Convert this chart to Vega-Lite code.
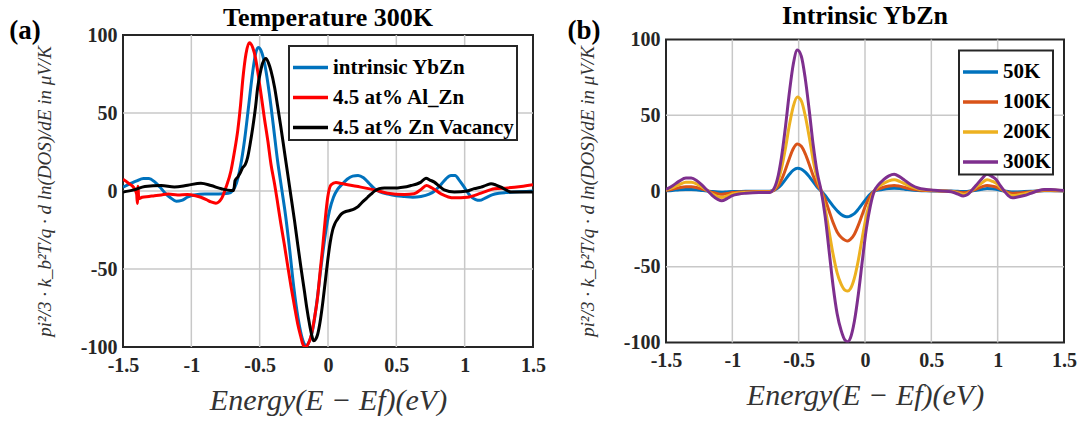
{
  "$schema": "https://vega.github.io/schema/vega-lite/v6.json",
  "background": "white",
  "padding": {"left": 8, "top": 2, "right": 0, "bottom": 0},
  "bounds": "flush",
  "spacing": 133,
  "center": true,
  "config": {
    "font": "Liberation Serif",
    "view": {"stroke": "#262626", "strokeWidth": 2},
    "axis": {
      "labelFont": "Liberation Serif", "labelFontWeight": "bold", "labelFontSize": 20, "labelColor": "#262626",
      "tickSize": 0, "tickOpacity": 0, "domainOpacity": 0, "grid": false,
      "labelPadding": 6, "labelOverlap": false, "labelFlush": false,
      "titleFont": "Liberation Serif", "titleFontWeight": "normal", "titleFontStyle": "italic", "titleColor": "#333333"
    },
    "axisX": {"titleFontSize": 30, "titlePadding": 10, "labelPadding": 8},
    "axisY": {"titleFontSize": 19, "titlePadding": 26},
    "rule": {"color": "#c8c8c8", "strokeWidth": 1.5},
    "legend": {
      "orient": "none", "title": null, "strokeColor": "#262626", "strokeWidth": 2, "fillColor": "white", "padding": 2,
      "symbolType": "stroke", "symbolSize": 1225, "symbolStrokeWidth": 3.5,
      "labelFont": "Liberation Serif", "labelFontWeight": "bold", "labelFontSize": 21, "labelColor": "#000000",
      "labelOffset": 3, "labelLimit": 400
    }
  },
  "datasets": {
    "left": [
      {"s":"intrinsic YbZn","x":-1.5,"y":2.5},{"s":"intrinsic YbZn","x":-1.45,"y":4.5},{"s":"intrinsic YbZn","x":-1.4,"y":6.5},{"s":"intrinsic YbZn","x":-1.35,"y":8},{"s":"intrinsic YbZn","x":-1.31,"y":8},{"s":"intrinsic YbZn","x":-1.27,"y":6},{"s":"intrinsic YbZn","x":-1.23,"y":2.5},{"s":"intrinsic YbZn","x":-1.19,"y":-1.5},{"s":"intrinsic YbZn","x":-1.15,"y":-4.5},{"s":"intrinsic YbZn","x":-1.11,"y":-6.5},{"s":"intrinsic YbZn","x":-1.07,"y":-6},{"s":"intrinsic YbZn","x":-1.03,"y":-4},{"s":"intrinsic YbZn","x":-0.98,"y":-2.5},{"s":"intrinsic YbZn","x":-0.9,"y":-2},{"s":"intrinsic YbZn","x":-0.8,"y":-2},{"s":"intrinsic YbZn","x":-0.73,"y":-1.5},{"s":"intrinsic YbZn","x":-0.7,"y":0},{"s":"intrinsic YbZn","x":-0.67,"y":5},{"s":"intrinsic YbZn","x":-0.64,"y":16},{"s":"intrinsic YbZn","x":-0.61,"y":33},{"s":"intrinsic YbZn","x":-0.58,"y":55},{"s":"intrinsic YbZn","x":-0.55,"y":77},{"s":"intrinsic YbZn","x":-0.53,"y":88},{"s":"intrinsic YbZn","x":-0.51,"y":92},{"s":"intrinsic YbZn","x":-0.49,"y":90},{"s":"intrinsic YbZn","x":-0.46,"y":80},{"s":"intrinsic YbZn","x":-0.43,"y":63},{"s":"intrinsic YbZn","x":-0.4,"y":42},{"s":"intrinsic YbZn","x":-0.37,"y":20},{"s":"intrinsic YbZn","x":-0.34,"y":2},{"s":"intrinsic YbZn","x":-0.31,"y":-16},{"s":"intrinsic YbZn","x":-0.28,"y":-38},{"s":"intrinsic YbZn","x":-0.25,"y":-62},{"s":"intrinsic YbZn","x":-0.22,"y":-81},{"s":"intrinsic YbZn","x":-0.19,"y":-94},{"s":"intrinsic YbZn","x":-0.16,"y":-99},{"s":"intrinsic YbZn","x":-0.14,"y":-97},{"s":"intrinsic YbZn","x":-0.11,"y":-88},{"s":"intrinsic YbZn","x":-0.08,"y":-70},{"s":"intrinsic YbZn","x":-0.05,"y":-48},{"s":"intrinsic YbZn","x":-0.02,"y":-28},{"s":"intrinsic YbZn","x":0.01,"y":-13},{"s":"intrinsic YbZn","x":0.04,"y":-4},{"s":"intrinsic YbZn","x":0.07,"y":1},{"s":"intrinsic YbZn","x":0.1,"y":4},{"s":"intrinsic YbZn","x":0.14,"y":7.5},{"s":"intrinsic YbZn","x":0.18,"y":9.5},{"s":"intrinsic YbZn","x":0.22,"y":10},{"s":"intrinsic YbZn","x":0.26,"y":8.5},{"s":"intrinsic YbZn","x":0.3,"y":5},{"s":"intrinsic YbZn","x":0.34,"y":1.5},{"s":"intrinsic YbZn","x":0.38,"y":-0.5},{"s":"intrinsic YbZn","x":0.44,"y":-2},{"s":"intrinsic YbZn","x":0.5,"y":-3},{"s":"intrinsic YbZn","x":0.56,"y":-3.5},{"s":"intrinsic YbZn","x":0.62,"y":-4},{"s":"intrinsic YbZn","x":0.68,"y":-3.5},{"s":"intrinsic YbZn","x":0.74,"y":-2},{"s":"intrinsic YbZn","x":0.78,"y":0},{"s":"intrinsic YbZn","x":0.82,"y":3.5},{"s":"intrinsic YbZn","x":0.86,"y":7.5},{"s":"intrinsic YbZn","x":0.9,"y":10},{"s":"intrinsic YbZn","x":0.93,"y":10},{"s":"intrinsic YbZn","x":0.96,"y":7},{"s":"intrinsic YbZn","x":1.0,"y":2},{"s":"intrinsic YbZn","x":1.04,"y":-3},{"s":"intrinsic YbZn","x":1.08,"y":-5.5},{"s":"intrinsic YbZn","x":1.11,"y":-6},{"s":"intrinsic YbZn","x":1.15,"y":-4.5},{"s":"intrinsic YbZn","x":1.2,"y":-2.5},{"s":"intrinsic YbZn","x":1.25,"y":-1.5},{"s":"intrinsic YbZn","x":1.3,"y":-1},{"s":"intrinsic YbZn","x":1.4,"y":-0.5},{"s":"intrinsic YbZn","x":1.5,"y":0},

      {"s":"4.5 at% Al_Zn","x":-1.5,"y":7.5},{"s":"4.5 at% Al_Zn","x":-1.46,"y":5},{"s":"4.5 at% Al_Zn","x":-1.42,"y":2},{"s":"4.5 at% Al_Zn","x":-1.4,"y":-2},{"s":"4.5 at% Al_Zn","x":-1.395,"y":-8},{"s":"4.5 at% Al_Zn","x":-1.39,"y":3},{"s":"4.5 at% Al_Zn","x":-1.385,"y":-5},{"s":"4.5 at% Al_Zn","x":-1.36,"y":-4},{"s":"4.5 at% Al_Zn","x":-1.31,"y":-3.5},{"s":"4.5 at% Al_Zn","x":-1.27,"y":-3},{"s":"4.5 at% Al_Zn","x":-1.22,"y":-2.5},{"s":"4.5 at% Al_Zn","x":-1.17,"y":-2},{"s":"4.5 at% Al_Zn","x":-1.1,"y":-2.5},{"s":"4.5 at% Al_Zn","x":-1.03,"y":-2.2},{"s":"4.5 at% Al_Zn","x":-0.97,"y":-3},{"s":"4.5 at% Al_Zn","x":-0.93,"y":-4},{"s":"4.5 at% Al_Zn","x":-0.89,"y":-5.5},{"s":"4.5 at% Al_Zn","x":-0.856,"y":-7},{"s":"4.5 at% Al_Zn","x":-0.82,"y":-7.8},{"s":"4.5 at% Al_Zn","x":-0.78,"y":-5},{"s":"4.5 at% Al_Zn","x":-0.746,"y":2.5},{"s":"4.5 at% Al_Zn","x":-0.71,"y":13},{"s":"4.5 at% Al_Zn","x":-0.685,"y":25},{"s":"4.5 at% Al_Zn","x":-0.66,"y":39},{"s":"4.5 at% Al_Zn","x":-0.64,"y":55},{"s":"4.5 at% Al_Zn","x":-0.624,"y":71},{"s":"4.5 at% Al_Zn","x":-0.6,"y":88},{"s":"4.5 at% Al_Zn","x":-0.576,"y":95},{"s":"4.5 at% Al_Zn","x":-0.551,"y":92},{"s":"4.5 at% Al_Zn","x":-0.53,"y":85},{"s":"4.5 at% Al_Zn","x":-0.515,"y":77},{"s":"4.5 at% Al_Zn","x":-0.49,"y":62},{"s":"4.5 at% Al_Zn","x":-0.466,"y":47},{"s":"4.5 at% Al_Zn","x":-0.44,"y":32},{"s":"4.5 at% Al_Zn","x":-0.417,"y":17},{"s":"4.5 at% Al_Zn","x":-0.39,"y":4},{"s":"4.5 at% Al_Zn","x":-0.368,"y":-8},{"s":"4.5 at% Al_Zn","x":-0.345,"y":-21},{"s":"4.5 at% Al_Zn","x":-0.32,"y":-34},{"s":"4.5 at% Al_Zn","x":-0.295,"y":-48},{"s":"4.5 at% Al_Zn","x":-0.27,"y":-61.5},{"s":"4.5 at% Al_Zn","x":-0.245,"y":-74},{"s":"4.5 at% Al_Zn","x":-0.222,"y":-85},{"s":"4.5 at% Al_Zn","x":-0.2,"y":-93},{"s":"4.5 at% Al_Zn","x":-0.185,"y":-98},{"s":"4.5 at% Al_Zn","x":-0.165,"y":-100},{"s":"4.5 at% Al_Zn","x":-0.145,"y":-98},{"s":"4.5 at% Al_Zn","x":-0.124,"y":-93},{"s":"4.5 at% Al_Zn","x":-0.1,"y":-82},{"s":"4.5 at% Al_Zn","x":-0.076,"y":-68},{"s":"4.5 at% Al_Zn","x":-0.058,"y":-52},{"s":"4.5 at% Al_Zn","x":-0.039,"y":-36},{"s":"4.5 at% Al_Zn","x":-0.02,"y":-18},{"s":"4.5 at% Al_Zn","x":-0.002,"y":-4},{"s":"4.5 at% Al_Zn","x":0.022,"y":4},{"s":"4.5 at% Al_Zn","x":0.058,"y":5.4},{"s":"4.5 at% Al_Zn","x":0.1,"y":4.8},{"s":"4.5 at% Al_Zn","x":0.144,"y":4},{"s":"4.5 at% Al_Zn","x":0.24,"y":2.5},{"s":"4.5 at% Al_Zn","x":0.34,"y":0.7},{"s":"4.5 at% Al_Zn","x":0.437,"y":-1.4},{"s":"4.5 at% Al_Zn","x":0.56,"y":-2.2},{"s":"4.5 at% Al_Zn","x":0.63,"y":-1.8},{"s":"4.5 at% Al_Zn","x":0.68,"y":1},{"s":"4.5 at% Al_Zn","x":0.72,"y":3.5},{"s":"4.5 at% Al_Zn","x":0.76,"y":2},{"s":"4.5 at% Al_Zn","x":0.827,"y":-1.8},{"s":"4.5 at% Al_Zn","x":0.924,"y":-4.4},{"s":"4.5 at% Al_Zn","x":1.02,"y":-4},{"s":"4.5 at% Al_Zn","x":1.12,"y":-1.4},{"s":"4.5 at% Al_Zn","x":1.217,"y":1.4},{"s":"4.5 at% Al_Zn","x":1.315,"y":2},{"s":"4.5 at% Al_Zn","x":1.412,"y":2.9},{"s":"4.5 at% Al_Zn","x":1.5,"y":4},

      {"s":"4.5 at% Zn Vacancy","x":-1.5,"y":-0.7},{"s":"4.5 at% Zn Vacancy","x":-1.42,"y":0.7},{"s":"4.5 at% Zn Vacancy","x":-1.34,"y":2.9},{"s":"4.5 at% Zn Vacancy","x":-1.22,"y":3.5},{"s":"4.5 at% Zn Vacancy","x":-1.124,"y":2.5},{"s":"4.5 at% Zn Vacancy","x":-1.027,"y":3.7},{"s":"4.5 at% Zn Vacancy","x":-0.93,"y":5},{"s":"4.5 at% Zn Vacancy","x":-0.856,"y":3.5},{"s":"4.5 at% Zn Vacancy","x":-0.78,"y":1.4},{"s":"4.5 at% Zn Vacancy","x":-0.71,"y":0.3},{"s":"4.5 at% Zn Vacancy","x":-0.69,"y":0.3},{"s":"4.5 at% Zn Vacancy","x":-0.68,"y":6.7},{"s":"4.5 at% Zn Vacancy","x":-0.66,"y":9},{"s":"4.5 at% Zn Vacancy","x":-0.64,"y":12},{"s":"4.5 at% Zn Vacancy","x":-0.624,"y":15},{"s":"4.5 at% Zn Vacancy","x":-0.605,"y":17},{"s":"4.5 at% Zn Vacancy","x":-0.588,"y":21.6},{"s":"4.5 at% Zn Vacancy","x":-0.57,"y":30},{"s":"4.5 at% Zn Vacancy","x":-0.55,"y":41},{"s":"4.5 at% Zn Vacancy","x":-0.53,"y":54},{"s":"4.5 at% Zn Vacancy","x":-0.515,"y":66},{"s":"4.5 at% Zn Vacancy","x":-0.495,"y":76},{"s":"4.5 at% Zn Vacancy","x":-0.478,"y":82},{"s":"4.5 at% Zn Vacancy","x":-0.454,"y":85},{"s":"4.5 at% Zn Vacancy","x":-0.435,"y":82},{"s":"4.5 at% Zn Vacancy","x":-0.417,"y":77},{"s":"4.5 at% Zn Vacancy","x":-0.39,"y":66},{"s":"4.5 at% Zn Vacancy","x":-0.368,"y":54},{"s":"4.5 at% Zn Vacancy","x":-0.345,"y":41},{"s":"4.5 at% Zn Vacancy","x":-0.32,"y":26},{"s":"4.5 at% Zn Vacancy","x":-0.295,"y":11},{"s":"4.5 at% Zn Vacancy","x":-0.27,"y":-4},{"s":"4.5 at% Zn Vacancy","x":-0.245,"y":-19},{"s":"4.5 at% Zn Vacancy","x":-0.222,"y":-34},{"s":"4.5 at% Zn Vacancy","x":-0.198,"y":-49},{"s":"4.5 at% Zn Vacancy","x":-0.173,"y":-64},{"s":"4.5 at% Zn Vacancy","x":-0.155,"y":-75},{"s":"4.5 at% Zn Vacancy","x":-0.136,"y":-85},{"s":"4.5 at% Zn Vacancy","x":-0.12,"y":-92},{"s":"4.5 at% Zn Vacancy","x":-0.105,"y":-96},{"s":"4.5 at% Zn Vacancy","x":-0.09,"y":-95},{"s":"4.5 at% Zn Vacancy","x":-0.076,"y":-92},{"s":"4.5 at% Zn Vacancy","x":-0.058,"y":-84},{"s":"4.5 at% Zn Vacancy","x":-0.039,"y":-72},{"s":"4.5 at% Zn Vacancy","x":-0.02,"y":-58},{"s":"4.5 at% Zn Vacancy","x":-0.002,"y":-44.5},{"s":"4.5 at% Zn Vacancy","x":0.016,"y":-33},{"s":"4.5 at% Zn Vacancy","x":0.034,"y":-25},{"s":"4.5 at% Zn Vacancy","x":0.05,"y":-21},{"s":"4.5 at% Zn Vacancy","x":0.07,"y":-18},{"s":"4.5 at% Zn Vacancy","x":0.095,"y":-15},{"s":"4.5 at% Zn Vacancy","x":0.12,"y":-13.5},{"s":"4.5 at% Zn Vacancy","x":0.16,"y":-12.5},{"s":"4.5 at% Zn Vacancy","x":0.193,"y":-11.4},{"s":"4.5 at% Zn Vacancy","x":0.22,"y":-10},{"s":"4.5 at% Zn Vacancy","x":0.24,"y":-8.2},{"s":"4.5 at% Zn Vacancy","x":0.265,"y":-6},{"s":"4.5 at% Zn Vacancy","x":0.29,"y":-4},{"s":"4.5 at% Zn Vacancy","x":0.315,"y":-2},{"s":"4.5 at% Zn Vacancy","x":0.34,"y":-0.1},{"s":"4.5 at% Zn Vacancy","x":0.375,"y":1.5},{"s":"4.5 at% Zn Vacancy","x":0.412,"y":2},{"s":"4.5 at% Zn Vacancy","x":0.51,"y":2},{"s":"4.5 at% Zn Vacancy","x":0.56,"y":2.5},{"s":"4.5 at% Zn Vacancy","x":0.607,"y":3.5},{"s":"4.5 at% Zn Vacancy","x":0.65,"y":4.5},{"s":"4.5 at% Zn Vacancy","x":0.68,"y":5.7},{"s":"4.5 at% Zn Vacancy","x":0.717,"y":8.2},{"s":"4.5 at% Zn Vacancy","x":0.745,"y":7},{"s":"4.5 at% Zn Vacancy","x":0.778,"y":5.7},{"s":"4.5 at% Zn Vacancy","x":0.815,"y":3},{"s":"4.5 at% Zn Vacancy","x":0.85,"y":0.7},{"s":"4.5 at% Zn Vacancy","x":0.924,"y":-0.7},{"s":"4.5 at% Zn Vacancy","x":1.02,"y":0},{"s":"4.5 at% Zn Vacancy","x":1.07,"y":1.5},{"s":"4.5 at% Zn Vacancy","x":1.12,"y":2.5},{"s":"4.5 at% Zn Vacancy","x":1.16,"y":3.8},{"s":"4.5 at% Zn Vacancy","x":1.193,"y":4.6},{"s":"4.5 at% Zn Vacancy","x":1.23,"y":3.8},{"s":"4.5 at% Zn Vacancy","x":1.266,"y":2.5},{"s":"4.5 at% Zn Vacancy","x":1.3,"y":0.8},{"s":"4.5 at% Zn Vacancy","x":1.34,"y":-0.7},{"s":"4.5 at% Zn Vacancy","x":1.42,"y":-0.7},{"s":"4.5 at% Zn Vacancy","x":1.5,"y":-0.7}
    ],
    "right": [
      {"s":"50K","x":-1.5,"y":0.1},{"s":"50K","x":-1.45,"y":0.4},{"s":"50K","x":-1.4,"y":0.8},{"s":"50K","x":-1.35,"y":1},{"s":"50K","x":-1.31,"y":1},{"s":"50K","x":-1.27,"y":0.8},{"s":"50K","x":-1.23,"y":0.4},{"s":"50K","x":-1.19,"y":0},{"s":"50K","x":-1.15,"y":-0.4},{"s":"50K","x":-1.11,"y":-0.7},{"s":"50K","x":-1.08,"y":-0.8},{"s":"50K","x":-1.04,"y":-0.6},{"s":"50K","x":-1.0,"y":-0.4},{"s":"50K","x":-0.95,"y":-0.3},{"s":"50K","x":-0.9,"y":-0.2},{"s":"50K","x":-0.8,"y":-0.1},{"s":"50K","x":-0.72,"y":-0.1},{"s":"50K","x":-0.69,"y":0.3},{"s":"50K","x":-0.66,"y":1.8},{"s":"50K","x":-0.63,"y":4.2},{"s":"50K","x":-0.6,"y":7.5},{"s":"50K","x":-0.57,"y":11},{"s":"50K","x":-0.54,"y":13.8},{"s":"50K","x":-0.51,"y":15},{"s":"50K","x":-0.48,"y":14.5},{"s":"50K","x":-0.45,"y":12.5},{"s":"50K","x":-0.42,"y":9.5},{"s":"50K","x":-0.39,"y":6},{"s":"50K","x":-0.36,"y":2.5},{"s":"50K","x":-0.33,"y":0},{"s":"50K","x":-0.3,"y":-3},{"s":"50K","x":-0.27,"y":-6.5},{"s":"50K","x":-0.24,"y":-10},{"s":"50K","x":-0.21,"y":-13},{"s":"50K","x":-0.18,"y":-15.5},{"s":"50K","x":-0.15,"y":-16.8},{"s":"50K","x":-0.13,"y":-17},{"s":"50K","x":-0.11,"y":-16.5},{"s":"50K","x":-0.08,"y":-15},{"s":"50K","x":-0.05,"y":-12},{"s":"50K","x":-0.02,"y":-8.5},{"s":"50K","x":0.01,"y":-5},{"s":"50K","x":0.04,"y":-2},{"s":"50K","x":0.07,"y":0},{"s":"50K","x":0.1,"y":0.6},{"s":"50K","x":0.14,"y":1.2},{"s":"50K","x":0.18,"y":1.6},{"s":"50K","x":0.22,"y":1.8},{"s":"50K","x":0.26,"y":1.6},{"s":"50K","x":0.3,"y":1.2},{"s":"50K","x":0.35,"y":0.6},{"s":"50K","x":0.4,"y":0.3},{"s":"50K","x":0.46,"y":0.1},{"s":"50K","x":0.52,"y":0},{"s":"50K","x":0.58,"y":0},{"s":"50K","x":0.65,"y":0},{"s":"50K","x":0.7,"y":-0.2},{"s":"50K","x":0.74,"y":-0.4},{"s":"50K","x":0.77,"y":-0.3},{"s":"50K","x":0.8,"y":0},{"s":"50K","x":0.84,"y":0.5},{"s":"50K","x":0.88,"y":1.2},{"s":"50K","x":0.92,"y":1.7},{"s":"50K","x":0.96,"y":1.5},{"s":"50K","x":0.99,"y":1.1},{"s":"50K","x":1.02,"y":0.5},{"s":"50K","x":1.05,"y":0},{"s":"50K","x":1.08,"y":-0.4},{"s":"50K","x":1.11,"y":-0.7},{"s":"50K","x":1.15,"y":-0.6},{"s":"50K","x":1.2,"y":-0.4},{"s":"50K","x":1.25,"y":-0.2},{"s":"50K","x":1.3,"y":0},{"s":"50K","x":1.35,"y":0.1},{"s":"50K","x":1.4,"y":0.1},{"s":"50K","x":1.45,"y":0.1},{"s":"50K","x":1.5,"y":0},

      {"s":"100K","x":-1.5,"y":0.3},{"s":"100K","x":-1.45,"y":1.2},{"s":"100K","x":-1.4,"y":2.2},{"s":"100K","x":-1.35,"y":2.8},{"s":"100K","x":-1.31,"y":2.8},{"s":"100K","x":-1.27,"y":2.3},{"s":"100K","x":-1.23,"y":1.3},{"s":"100K","x":-1.19,"y":0.2},{"s":"100K","x":-1.15,"y":-1},{"s":"100K","x":-1.11,"y":-1.8},{"s":"100K","x":-1.08,"y":-2.2},{"s":"100K","x":-1.04,"y":-1.7},{"s":"100K","x":-1.0,"y":-1},{"s":"100K","x":-0.95,"y":-0.7},{"s":"100K","x":-0.9,"y":-0.5},{"s":"100K","x":-0.8,"y":-0.3},{"s":"100K","x":-0.72,"y":-0.3},{"s":"100K","x":-0.69,"y":0.3},{"s":"100K","x":-0.66,"y":2.7},{"s":"100K","x":-0.63,"y":7.3},{"s":"100K","x":-0.6,"y":14},{"s":"100K","x":-0.57,"y":21.5},{"s":"100K","x":-0.54,"y":28},{"s":"100K","x":-0.51,"y":31},{"s":"100K","x":-0.48,"y":29.5},{"s":"100K","x":-0.45,"y":24.5},{"s":"100K","x":-0.42,"y":17.5},{"s":"100K","x":-0.39,"y":10},{"s":"100K","x":-0.36,"y":4},{"s":"100K","x":-0.33,"y":0},{"s":"100K","x":-0.3,"y":-5.7},{"s":"100K","x":-0.27,"y":-13.3},{"s":"100K","x":-0.24,"y":-21},{"s":"100K","x":-0.21,"y":-27},{"s":"100K","x":-0.18,"y":-30.5},{"s":"100K","x":-0.15,"y":-32.5},{"s":"100K","x":-0.13,"y":-33},{"s":"100K","x":-0.11,"y":-32},{"s":"100K","x":-0.08,"y":-28.5},{"s":"100K","x":-0.05,"y":-22.5},{"s":"100K","x":-0.02,"y":-15.3},{"s":"100K","x":0.01,"y":-8.3},{"s":"100K","x":0.04,"y":-3.3},{"s":"100K","x":0.07,"y":0},{"s":"100K","x":0.1,"y":1.3},{"s":"100K","x":0.14,"y":2.5},{"s":"100K","x":0.18,"y":3.3},{"s":"100K","x":0.22,"y":3.7},{"s":"100K","x":0.26,"y":3.2},{"s":"100K","x":0.3,"y":2.3},{"s":"100K","x":0.35,"y":1.3},{"s":"100K","x":0.4,"y":0.7},{"s":"100K","x":0.46,"y":0.3},{"s":"100K","x":0.52,"y":0.2},{"s":"100K","x":0.58,"y":0},{"s":"100K","x":0.65,"y":-0.2},{"s":"100K","x":0.7,"y":-0.7},{"s":"100K","x":0.74,"y":-1.1},{"s":"100K","x":0.77,"y":-0.8},{"s":"100K","x":0.8,"y":0},{"s":"100K","x":0.84,"y":1.3},{"s":"100K","x":0.88,"y":2.7},{"s":"100K","x":0.92,"y":3.7},{"s":"100K","x":0.96,"y":3.2},{"s":"100K","x":0.99,"y":2.5},{"s":"100K","x":1.02,"y":1.2},{"s":"100K","x":1.05,"y":0},{"s":"100K","x":1.08,"y":-1},{"s":"100K","x":1.11,"y":-1.5},{"s":"100K","x":1.15,"y":-1.3},{"s":"100K","x":1.2,"y":-1},{"s":"100K","x":1.25,"y":-0.5},{"s":"100K","x":1.3,"y":0},{"s":"100K","x":1.35,"y":0.3},{"s":"100K","x":1.4,"y":0.3},{"s":"100K","x":1.45,"y":0.2},{"s":"100K","x":1.5,"y":0.1},

      {"s":"200K","x":-1.5,"y":0.7},{"s":"200K","x":-1.45,"y":2.3},{"s":"200K","x":-1.4,"y":4.3},{"s":"200K","x":-1.35,"y":5.7},{"s":"200K","x":-1.31,"y":5.7},{"s":"200K","x":-1.27,"y":4.7},{"s":"200K","x":-1.23,"y":2.7},{"s":"200K","x":-1.19,"y":0.3},{"s":"200K","x":-1.15,"y":-2},{"s":"200K","x":-1.11,"y":-3.7},{"s":"200K","x":-1.08,"y":-4.3},{"s":"200K","x":-1.04,"y":-3.3},{"s":"200K","x":-1.0,"y":-2},{"s":"200K","x":-0.95,"y":-1.3},{"s":"200K","x":-0.9,"y":-1},{"s":"200K","x":-0.8,"y":-0.7},{"s":"200K","x":-0.72,"y":-0.7},{"s":"200K","x":-0.69,"y":0.7},{"s":"200K","x":-0.66,"y":5.3},{"s":"200K","x":-0.63,"y":14.7},{"s":"200K","x":-0.6,"y":28},{"s":"200K","x":-0.57,"y":43.5},{"s":"200K","x":-0.54,"y":56},{"s":"200K","x":-0.51,"y":62},{"s":"200K","x":-0.48,"y":59.5},{"s":"200K","x":-0.45,"y":49.5},{"s":"200K","x":-0.42,"y":35.5},{"s":"200K","x":-0.39,"y":20},{"s":"200K","x":-0.36,"y":8},{"s":"200K","x":-0.33,"y":0},{"s":"200K","x":-0.3,"y":-11.5},{"s":"200K","x":-0.27,"y":-27},{"s":"200K","x":-0.24,"y":-42},{"s":"200K","x":-0.21,"y":-54},{"s":"200K","x":-0.18,"y":-61.5},{"s":"200K","x":-0.15,"y":-65.5},{"s":"200K","x":-0.13,"y":-66},{"s":"200K","x":-0.11,"y":-64.5},{"s":"200K","x":-0.08,"y":-57.5},{"s":"200K","x":-0.05,"y":-45.5},{"s":"200K","x":-0.02,"y":-30.5},{"s":"200K","x":0.01,"y":-16.5},{"s":"200K","x":0.04,"y":-6.5},{"s":"200K","x":0.07,"y":0},{"s":"200K","x":0.1,"y":2.7},{"s":"200K","x":0.14,"y":5},{"s":"200K","x":0.18,"y":6.7},{"s":"200K","x":0.22,"y":7.4},{"s":"200K","x":0.26,"y":6.4},{"s":"200K","x":0.3,"y":4.7},{"s":"200K","x":0.35,"y":2.7},{"s":"200K","x":0.4,"y":1.3},{"s":"200K","x":0.46,"y":0.7},{"s":"200K","x":0.52,"y":0.3},{"s":"200K","x":0.58,"y":0},{"s":"200K","x":0.65,"y":-0.3},{"s":"200K","x":0.7,"y":-1.3},{"s":"200K","x":0.74,"y":-2.2},{"s":"200K","x":0.77,"y":-1.7},{"s":"200K","x":0.8,"y":0},{"s":"200K","x":0.84,"y":2.7},{"s":"200K","x":0.88,"y":5.3},{"s":"200K","x":0.92,"y":7.4},{"s":"200K","x":0.96,"y":6.4},{"s":"200K","x":0.99,"y":5},{"s":"200K","x":1.02,"y":2.3},{"s":"200K","x":1.05,"y":0},{"s":"200K","x":1.08,"y":-2},{"s":"200K","x":1.11,"y":-3},{"s":"200K","x":1.15,"y":-2.7},{"s":"200K","x":1.2,"y":-2},{"s":"200K","x":1.25,"y":-1},{"s":"200K","x":1.3,"y":0},{"s":"200K","x":1.35,"y":0.7},{"s":"200K","x":1.4,"y":0.7},{"s":"200K","x":1.45,"y":0.5},{"s":"200K","x":1.5,"y":0.2},

      {"s":"300K","x":-1.5,"y":1},{"s":"300K","x":-1.45,"y":3.5},{"s":"300K","x":-1.4,"y":6.5},{"s":"300K","x":-1.35,"y":8.5},{"s":"300K","x":-1.31,"y":8.5},{"s":"300K","x":-1.27,"y":7},{"s":"300K","x":-1.23,"y":4},{"s":"300K","x":-1.19,"y":0.5},{"s":"300K","x":-1.15,"y":-3},{"s":"300K","x":-1.11,"y":-5.5},{"s":"300K","x":-1.08,"y":-6.5},{"s":"300K","x":-1.04,"y":-5},{"s":"300K","x":-1.0,"y":-3},{"s":"300K","x":-0.95,"y":-2},{"s":"300K","x":-0.9,"y":-1.5},{"s":"300K","x":-0.8,"y":-1},{"s":"300K","x":-0.72,"y":-1},{"s":"300K","x":-0.69,"y":1},{"s":"300K","x":-0.66,"y":8},{"s":"300K","x":-0.63,"y":22},{"s":"300K","x":-0.6,"y":42},{"s":"300K","x":-0.57,"y":65},{"s":"300K","x":-0.54,"y":84},{"s":"300K","x":-0.51,"y":93},{"s":"300K","x":-0.48,"y":89},{"s":"300K","x":-0.45,"y":74},{"s":"300K","x":-0.42,"y":53},{"s":"300K","x":-0.39,"y":30},{"s":"300K","x":-0.36,"y":12},{"s":"300K","x":-0.33,"y":0},{"s":"300K","x":-0.3,"y":-17},{"s":"300K","x":-0.27,"y":-40},{"s":"300K","x":-0.24,"y":-63},{"s":"300K","x":-0.21,"y":-81},{"s":"300K","x":-0.18,"y":-92},{"s":"300K","x":-0.15,"y":-98.5},{"s":"300K","x":-0.13,"y":-99.5},{"s":"300K","x":-0.11,"y":-97},{"s":"300K","x":-0.08,"y":-86},{"s":"300K","x":-0.05,"y":-68},{"s":"300K","x":-0.02,"y":-46},{"s":"300K","x":0.01,"y":-25},{"s":"300K","x":0.04,"y":-10},{"s":"300K","x":0.07,"y":0},{"s":"300K","x":0.1,"y":4},{"s":"300K","x":0.14,"y":7.5},{"s":"300K","x":0.18,"y":10},{"s":"300K","x":0.22,"y":11},{"s":"300K","x":0.26,"y":9.5},{"s":"300K","x":0.3,"y":7},{"s":"300K","x":0.35,"y":4},{"s":"300K","x":0.4,"y":2},{"s":"300K","x":0.46,"y":1},{"s":"300K","x":0.52,"y":0.5},{"s":"300K","x":0.58,"y":0},{"s":"300K","x":0.65,"y":-0.5},{"s":"300K","x":0.7,"y":-2},{"s":"300K","x":0.74,"y":-3.3},{"s":"300K","x":0.77,"y":-2.5},{"s":"300K","x":0.8,"y":0},{"s":"300K","x":0.84,"y":4},{"s":"300K","x":0.88,"y":8},{"s":"300K","x":0.92,"y":11},{"s":"300K","x":0.96,"y":9.5},{"s":"300K","x":0.99,"y":7.5},{"s":"300K","x":1.02,"y":3.5},{"s":"300K","x":1.05,"y":0},{"s":"300K","x":1.08,"y":-3},{"s":"300K","x":1.11,"y":-4.5},{"s":"300K","x":1.15,"y":-4},{"s":"300K","x":1.2,"y":-3},{"s":"300K","x":1.25,"y":-1.5},{"s":"300K","x":1.3,"y":0},{"s":"300K","x":1.35,"y":1},{"s":"300K","x":1.4,"y":1},{"s":"300K","x":1.45,"y":0.7},{"s":"300K","x":1.5,"y":0.3}
    ]
  },
  "hconcat": [
    {
      "width": 410, "height": 312,
      "layer": [
        {"data": {"values": [{}]}, "mark": "rule", "encoding": {"x": {"datum": -1, "type": "quantitative"}}},
        {"data": {"values": [{}]}, "mark": "rule", "encoding": {"x": {"datum": -0.5, "type": "quantitative"}}},
        {"data": {"values": [{}]}, "mark": "rule", "encoding": {"x": {"datum": 0, "type": "quantitative"}}},
        {"data": {"values": [{}]}, "mark": "rule", "encoding": {"x": {"datum": 0.5, "type": "quantitative"}}},
        {"data": {"values": [{}]}, "mark": "rule", "encoding": {"x": {"datum": 1, "type": "quantitative"}}},
        {"data": {"values": [{}]}, "mark": "rule", "encoding": {"y": {"datum": -50, "type": "quantitative"}}},
        {"data": {"values": [{}]}, "mark": "rule", "encoding": {"y": {"datum": 0, "type": "quantitative"}}},
        {"data": {"values": [{}]}, "mark": "rule", "encoding": {"y": {"datum": 50, "type": "quantitative"}}},
        {
          "data": {"name": "left"},
          "mark": {"type": "line", "interpolate": "monotone", "strokeWidth": 3, "clip": true},
          "encoding": {
            "x": {"field": "x", "type": "quantitative", "title": "Energy(E − Ef)(eV)",
                  "scale": {"domain": [-1.5, 1.5], "nice": false, "zero": false},
                  "axis": {"values": [-1.5, -1, -0.5, 0, 0.5, 1, 1.5], "labelExpr": "'' + datum.value"}},
            "y": {"field": "y", "type": "quantitative", "title": "pi²/3 · k_b²T/q · d ln(DOS)/dE  in μV/K",
                  "scale": {"domain": [-100, 100], "nice": false, "zero": false},
                  "axis": {"values": [-100, -50, 0, 50, 100], "labelExpr": "'' + datum.value"}},
            "color": {"field": "s", "type": "nominal",
                      "scale": {"domain": ["intrinsic YbZn", "4.5 at% Al_Zn", "4.5 at% Zn Vacancy"], "range": ["#0072BD", "#FF0000", "#000000"]},
                      "legend": {"legendX": 166, "legendY": 11, "rowPadding": -3}}
          }
        },
        {
          "data": {"values": [{"t": "(a)"}]},
          "mark": {"type": "text", "font": "Liberation Serif", "fontWeight": "bold", "fontSize": 27, "align": "center", "baseline": "middle"},
          "encoding": {
            "x": {"datum": -2.217, "type": "quantitative"},
            "y": {"datum": 102.7, "type": "quantitative"},
            "text": {"field": "t"}
          }
        },
        {
          "data": {"values": [{"t": "Temperature 300K"}]},
          "mark": {"type": "text", "font": "Liberation Serif", "fontWeight": "bold", "fontSize": 26, "align": "center", "baseline": "middle"},
          "encoding": {
            "x": {"datum": 0, "type": "quantitative"},
            "y": {"datum": 111, "type": "quantitative"},
            "text": {"field": "t"}
          }
        }
      ]
    },
    {
      "width": 398, "height": 303,
      "layer": [
        {"data": {"values": [{}]}, "mark": "rule", "encoding": {"x": {"datum": -1, "type": "quantitative"}}},
        {"data": {"values": [{}]}, "mark": "rule", "encoding": {"x": {"datum": -0.5, "type": "quantitative"}}},
        {"data": {"values": [{}]}, "mark": "rule", "encoding": {"x": {"datum": 0, "type": "quantitative"}}},
        {"data": {"values": [{}]}, "mark": "rule", "encoding": {"x": {"datum": 0.5, "type": "quantitative"}}},
        {"data": {"values": [{}]}, "mark": "rule", "encoding": {"x": {"datum": 1, "type": "quantitative"}}},
        {"data": {"values": [{}]}, "mark": "rule", "encoding": {"y": {"datum": -50, "type": "quantitative"}}},
        {"data": {"values": [{}]}, "mark": "rule", "encoding": {"y": {"datum": 0, "type": "quantitative"}}},
        {"data": {"values": [{}]}, "mark": "rule", "encoding": {"y": {"datum": 50, "type": "quantitative"}}},
        {
          "data": {"name": "right"},
          "mark": {"type": "line", "interpolate": "monotone", "strokeWidth": 3, "clip": true},
          "encoding": {
            "x": {"field": "x", "type": "quantitative", "title": "Energy(E − Ef)(eV)",
                  "scale": {"domain": [-1.5, 1.5], "nice": false, "zero": false},
                  "axis": {"values": [-1.5, -1, -0.5, 0, 0.5, 1, 1.5], "labelExpr": "'' + datum.value"}},
            "y": {"field": "y", "type": "quantitative", "title": "pi²/3 · k_b²T/q · d ln(DOS)/dE  in μV/K",
                  "scale": {"domain": [-100, 100], "nice": false, "zero": false},
                  "axis": {"values": [-100, -50, 0, 50, 100], "labelExpr": "'' + datum.value"}},
            "color": {"field": "s", "type": "nominal",
                      "scale": {"domain": ["50K", "100K", "200K", "300K"], "range": ["#0072BD", "#D95319", "#EDB120", "#7E2F8E"]},
                      "legend": {"legendX": 293, "legendY": 11, "rowPadding": -5}}
          }
        },
        {
          "data": {"values": [{"t": "(b)"}]},
          "mark": {"type": "text", "font": "Liberation Serif", "fontWeight": "bold", "fontSize": 27, "align": "center", "baseline": "middle"},
          "encoding": {
            "x": {"datum": -2.118, "type": "quantitative"},
            "y": {"datum": 105.9, "type": "quantitative"},
            "text": {"field": "t"}
          }
        },
        {
          "data": {"values": [{"t": "Intrinsic YbZn"}]},
          "mark": {"type": "text", "font": "Liberation Serif", "fontWeight": "bold", "fontSize": 26, "align": "center", "baseline": "middle"},
          "encoding": {
            "x": {"datum": 0, "type": "quantitative"},
            "y": {"datum": 115.2, "type": "quantitative"},
            "text": {"field": "t"}
          }
        }
      ]
    }
  ],
  "resolve": {"scale": {"color": "independent"}}
}
